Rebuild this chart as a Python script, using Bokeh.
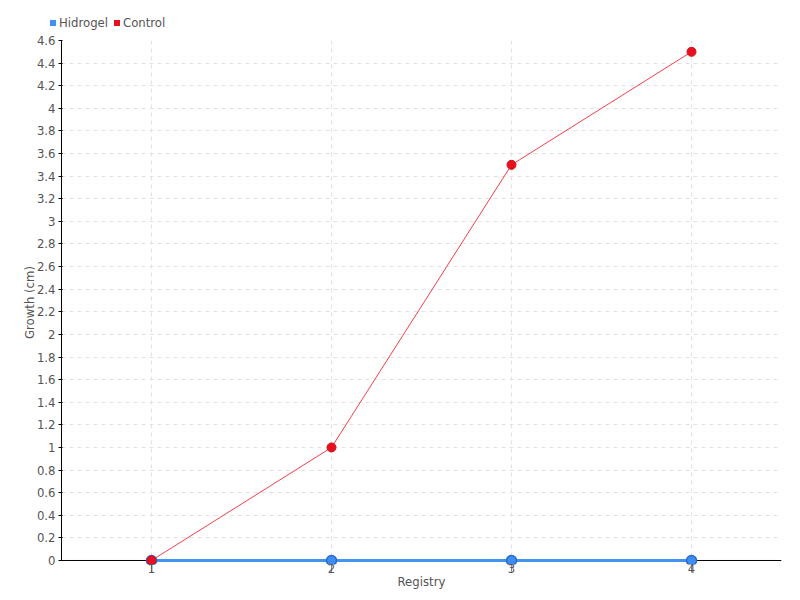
from bokeh.plotting import figure
from bokeh.layouts import column
from bokeh.models import ColumnDataSource, FixedTicker, Span, Div
from bokeh.embed import file_html
from bokeh.resources import INLINE

registry = [1, 2, 3, 4]
hidrogel = [0, 0, 0, 0]
control = [0, 1, 3.5, 4.5]
y_ticks = [round(i * 0.2, 1) for i in range(24)]
series_names = ["Hidrogel", "Control"]

FONT = "DejaVu Sans Condensed"
TXT = "#555555"
BLUE = "#3d8ef0"
RED = "#e8101e"
LEG_COLORS = ["#3d94f6", RED]

# ---- legend strip (HTML) ----
items_html = ""
for name, col, left in zip(series_names, LEG_COLORS, [50, 114]):
    items_html += (f'<span style="position:absolute;left:{left}px;top:20px;width:6px;height:6px;'
                   f'background:{col}"></span>'
                   f'<span style="position:absolute;left:{left + 9}px;top:14px;white-space:nowrap">{name}</span>')
legend_div = Div(text=(f'<div style="position:relative;width:800px;height:30px;font-family:\'{FONT}\';'
                       f'font-size:13px;color:{TXT}">{items_html}</div>'),
                 width=800, height=30, margin=0)

# ---- main chart ----
p = figure(width=800, height=570, output_backend="svg", toolbar_location=None,
           x_range=(0.5, 4.5), y_range=(-0.0354, 4.6),
           min_border_left=61, min_border_top=10, min_border_right=19, min_border_bottom=36)
p.outline_line_color = None

src_h = ColumnDataSource(dict(x=registry, y=hidrogel))
src_c = ColumnDataSource(dict(x=registry, y=control))

p.xgrid.ticker = FixedTicker(ticks=registry)
p.ygrid.ticker = FixedTicker(ticks=y_ticks)
for g in (p.xgrid, p.ygrid):
    g.grid_line_color = "#e2e2e2"
    g.grid_line_dash = "4 4"

p.add_layout(Span(location=0, dimension="width", line_color="black", line_width=1, level="underlay"))

p.line("x", "y", source=src_c, line_color="#f2404c", line_width=1)
p.line("x", "y", source=src_h, line_color="#4294ee", line_width=3)
p.scatter("x", "y", source=src_h, size=10, fill_color=BLUE, line_color="#2a6ad0", line_width=1.5)
p.scatter("x", "y", source=src_c, size=9, fill_color=RED, line_color="#d0101e", line_width=1)

p.xaxis.ticker = FixedTicker(ticks=registry)
p.yaxis.ticker = FixedTicker(ticks=y_ticks)
p.xaxis.axis_label = "Registry"
p.yaxis.axis_label = "Growth (cm)"
for ax in (p.xaxis, p.yaxis):
    ax.axis_label_text_font = FONT
    ax.axis_label_text_font_size = "13px"
    ax.axis_label_text_font_style = "normal"
    ax.axis_label_text_color = TXT
    ax.major_label_text_font = FONT
    ax.major_label_text_font_size = "13px"
    ax.major_label_text_color = TXT
    ax.minor_tick_line_color = None
p.xaxis.axis_line_color = None
p.xaxis.major_tick_out = 8
p.xaxis.major_tick_in = 0
p.xaxis.major_tick_line_color = "#888888"
p.xaxis.major_label_standoff = -9
p.xaxis.axis_label_standoff = -2
p.yaxis.axis_line_color = "black"
p.yaxis.bounds = (0, 4.6)
p.yaxis.major_tick_out = 3
p.yaxis.major_tick_in = 1
p.yaxis.major_label_standoff = 3
p.yaxis.axis_label_standoff = -3

open("out.html", "w").write(file_html(column(legend_div, p, spacing=0), INLINE))
